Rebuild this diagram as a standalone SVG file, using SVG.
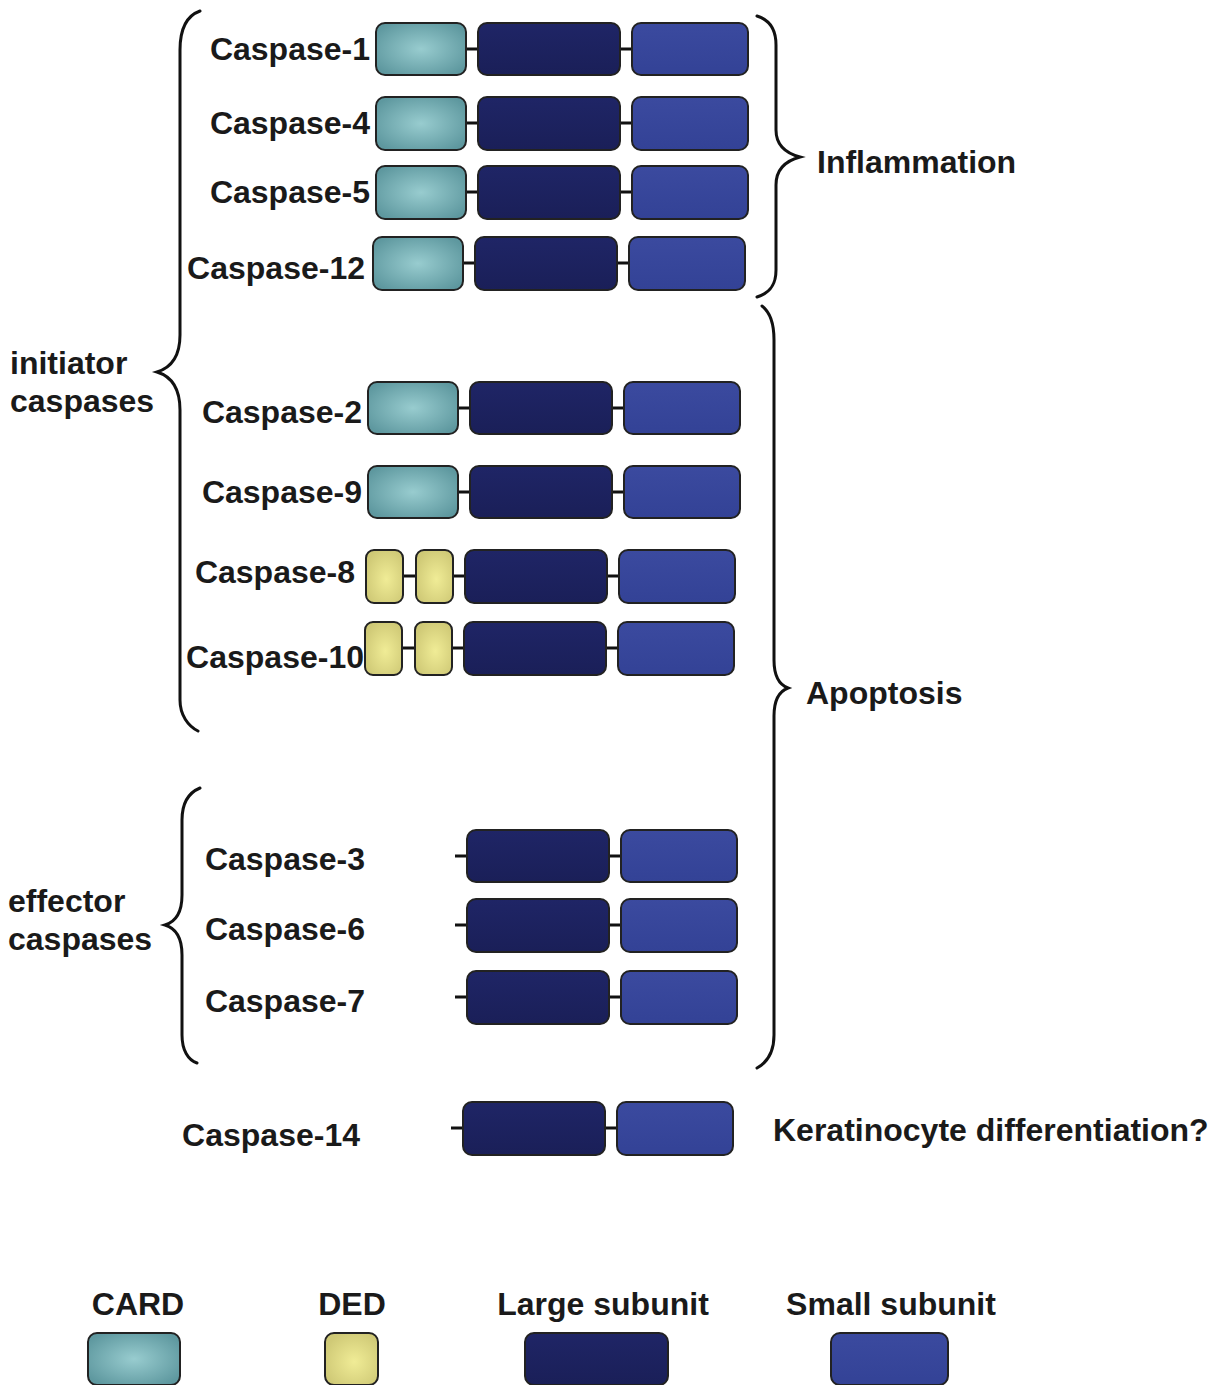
<svg xmlns="http://www.w3.org/2000/svg" width="1224" height="1385" viewBox="0 0 1224 1385">
<defs>
<radialGradient id="gCard" cx="50%" cy="50%" r="60%">
<stop offset="0" stop-color="#98cccf"/>
<stop offset="1" stop-color="#5e989f"/>
</radialGradient>
<radialGradient id="gDed" cx="55%" cy="55%" r="60%">
<stop offset="0" stop-color="#f0ec96"/>
<stop offset="1" stop-color="#cfc976"/>
</radialGradient>
<linearGradient id="gLarge" x1="0" y1="0" x2="0" y2="1">
<stop offset="0" stop-color="#1f2566"/>
<stop offset="1" stop-color="#1a1f58"/>
</linearGradient>
<linearGradient id="gSmall" x1="0" y1="0" x2="0" y2="1">
<stop offset="0" stop-color="#3b4a9f"/>
<stop offset="1" stop-color="#334296"/>
</linearGradient>
</defs>
<style>
text{font-family:"Liberation Sans",Arial,sans-serif;font-weight:bold;font-size:32px;fill:#1a1a1a}
.lab{text-anchor:end}
.mid{text-anchor:middle}
.card,.ded,.large,.small{stroke:#222;stroke-width:2}
.card{fill:url(#gCard)}
.ded{fill:url(#gDed)}
.large{fill:url(#gLarge)}
.small{fill:url(#gSmall)}
.link{stroke:#111;stroke-width:3;fill:none}
.brace{stroke:#111;stroke-width:3;fill:none;stroke-linecap:round}
</style>
<rect x="0" y="0" width="1224" height="1385" fill="#ffffff"/>

<g id="connectors">
<path class="link" d="M466 49H478M620 49H632"/>
<path class="link" d="M466 123H478M620 123H632"/>
<path class="link" d="M466 192H478M620 192H632"/>
<path class="link" d="M463 263H475M617 263H629"/>
<path class="link" d="M458 408H470M612 408H624"/>
<path class="link" d="M458 492H470M612 492H624"/>
<path class="link" d="M403 576H416M453 576H465M607 576H619"/>
<path class="link" d="M402 648H415M452 648H464M606 648H618"/>
<path class="link" d="M455 856H467M609 856H621"/>
<path class="link" d="M455 925H467M609 925H621"/>
<path class="link" d="M455 997H467M609 997H621"/>
<path class="link" d="M451 1128H463M605 1128H617"/>
</g>

<g id="braces">
<path class="brace" d="M200 11C186 16 180 30 180 50L180 335C180 358 170 368 157 372C170 376 180 386 180 410L180 700C180 715 188 726 198 731"/>
<path class="brace" d="M200 788C188 793 182 803 182 820L182 895C182 914 175 922 165 925C175 928 182 936 182 955L182 1035C182 1050 188 1060 197 1063"/>
<path class="brace" d="M757 16C770 20 776 30 776 45L776 130C776 145 785 153 800 157C785 161 776 169 776 185L776 270C776 285 770 293 757 297"/>
<path class="brace" d="M762 306C770 312 774 322 774 340L774 660C774 678 780 685 788 688C780 691 774 698 774 716L774 1035C774 1052 768 1062 757 1068"/>
</g>

<g id="caspase-1">
<text class="lab" x="370" y="60">Caspase-1</text>
<rect class="card" x="376" y="23" width="90" height="52" rx="9"/>
<rect class="large" x="478" y="23" width="142" height="52" rx="9"/>
<rect class="small" x="632" y="23" width="116" height="52" rx="9"/>
</g>
<g id="caspase-4">
<text class="lab" x="370" y="134">Caspase-4</text>
<rect class="card" x="376" y="97" width="90" height="53" rx="9"/>
<rect class="large" x="478" y="97" width="142" height="53" rx="9"/>
<rect class="small" x="632" y="97" width="116" height="53" rx="9"/>
</g>
<g id="caspase-5">
<text class="lab" x="370" y="203">Caspase-5</text>
<rect class="card" x="376" y="166" width="90" height="53" rx="9"/>
<rect class="large" x="478" y="166" width="142" height="53" rx="9"/>
<rect class="small" x="632" y="166" width="116" height="53" rx="9"/>
</g>
<g id="caspase-12">
<text class="lab" x="365" y="279">Caspase-12</text>
<rect class="card" x="373" y="237" width="90" height="53" rx="9"/>
<rect class="large" x="475" y="237" width="142" height="53" rx="9"/>
<rect class="small" x="629" y="237" width="116" height="53" rx="9"/>
</g>
<g id="caspase-2">
<text class="lab" x="362" y="423">Caspase-2</text>
<rect class="card" x="368" y="382" width="90" height="52" rx="9"/>
<rect class="large" x="470" y="382" width="142" height="52" rx="9"/>
<rect class="small" x="624" y="382" width="116" height="52" rx="9"/>
</g>
<g id="caspase-9">
<text class="lab" x="362" y="503">Caspase-9</text>
<rect class="card" x="368" y="466" width="90" height="52" rx="9"/>
<rect class="large" x="470" y="466" width="142" height="52" rx="9"/>
<rect class="small" x="624" y="466" width="116" height="52" rx="9"/>
</g>
<g id="caspase-8">
<text class="lab" x="355" y="583">Caspase-8</text>
<rect class="ded" x="366" y="550" width="37" height="53" rx="8"/>
<rect class="ded" x="416" y="550" width="37" height="53" rx="8"/>
<rect class="large" x="465" y="550" width="142" height="53" rx="9"/>
<rect class="small" x="619" y="550" width="116" height="53" rx="9"/>
</g>
<g id="caspase-10">
<text class="lab" x="364" y="668">Caspase-10</text>
<rect class="ded" x="365" y="622" width="37" height="53" rx="8"/>
<rect class="ded" x="415" y="622" width="37" height="53" rx="8"/>
<rect class="large" x="464" y="622" width="142" height="53" rx="9"/>
<rect class="small" x="618" y="622" width="116" height="53" rx="9"/>
</g>
<g id="caspase-3">
<text class="lab" x="365" y="870">Caspase-3</text>
<rect class="large" x="467" y="830" width="142" height="52" rx="9"/>
<rect class="small" x="621" y="830" width="116" height="52" rx="9"/>
</g>
<g id="caspase-6">
<text class="lab" x="365" y="940">Caspase-6</text>
<rect class="large" x="467" y="899" width="142" height="53" rx="9"/>
<rect class="small" x="621" y="899" width="116" height="53" rx="9"/>
</g>
<g id="caspase-7">
<text class="lab" x="365" y="1012">Caspase-7</text>
<rect class="large" x="467" y="971" width="142" height="53" rx="9"/>
<rect class="small" x="621" y="971" width="116" height="53" rx="9"/>
</g>
<g id="caspase-14">
<text class="lab" x="360" y="1146">Caspase-14</text>
<rect class="large" x="463" y="1102" width="142" height="53" rx="9"/>
<rect class="small" x="617" y="1102" width="116" height="53" rx="9"/>
</g>

<g id="group-labels">
<text x="10" y="374">initiator</text>
<text x="10" y="412">caspases</text>
<text x="8" y="912">effector</text>
<text x="8" y="950">caspases</text>
<text x="817" y="173">Inflammation</text>
<text x="806" y="704">Apoptosis</text>
<text x="773" y="1141">Keratinocyte differentiation?</text>
</g>

<g id="legend">
<text class="mid" x="138" y="1315">CARD</text>
<rect class="card" x="88" y="1333" width="92" height="52" rx="9"/>
<text class="mid" x="352" y="1315">DED</text>
<rect class="ded" x="325" y="1333" width="53" height="52" rx="9"/>
<text class="mid" x="603" y="1315">Large subunit</text>
<rect class="large" x="525" y="1333" width="143" height="52" rx="9"/>
<text class="mid" x="891" y="1315">Small subunit</text>
<rect class="small" x="831" y="1333" width="117" height="52" rx="9"/>
</g>
</svg>
